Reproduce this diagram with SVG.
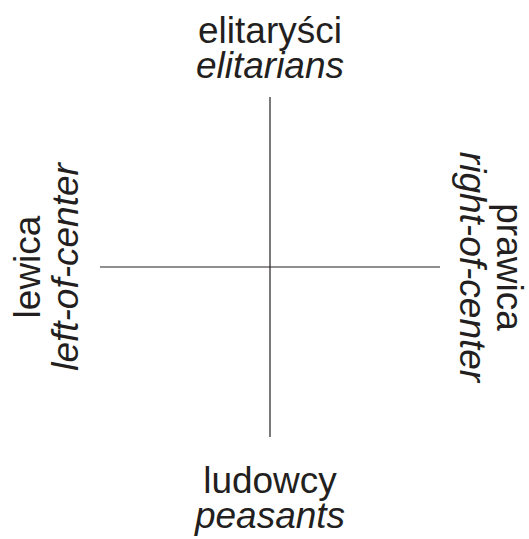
<svg xmlns="http://www.w3.org/2000/svg" width="529" height="539" viewBox="0 0 529 539">
<style>
.t{font-family:"Liberation Sans",Arial,sans-serif;font-size:37px;fill:#231f20;text-anchor:middle}
.i{font-style:italic}
.ax{stroke:#231f20;stroke-width:1.2;fill:none}
</style>
<rect width="529" height="539" fill="#fff"/>
<g id="connectors">
<line class="ax" x1="270" y1="97" x2="270" y2="437"/>
<line class="ax" x1="100" y1="267" x2="440" y2="267"/>
</g>
<g id="top">
<text class="t" x="270" y="43">elitaryści</text>
<text class="t i" x="270" y="78">elitarians</text>
</g>
<g id="bottom">
<text class="t" x="270" y="493">ludowcy</text>
<text class="t i" x="270" y="528">peasants</text>
</g>
<g id="left" transform="translate(0,267) rotate(-90)">
<text class="t" x="0" y="40">lewica</text>
<text class="t i" x="0" y="78">left-of-center</text>
</g>
<g id="right" transform="translate(529,267) rotate(90)">
<text class="t" x="0" y="32">prawica</text>
<text class="t i" x="0" y="69">right-of-center</text>
</g>
</svg>
